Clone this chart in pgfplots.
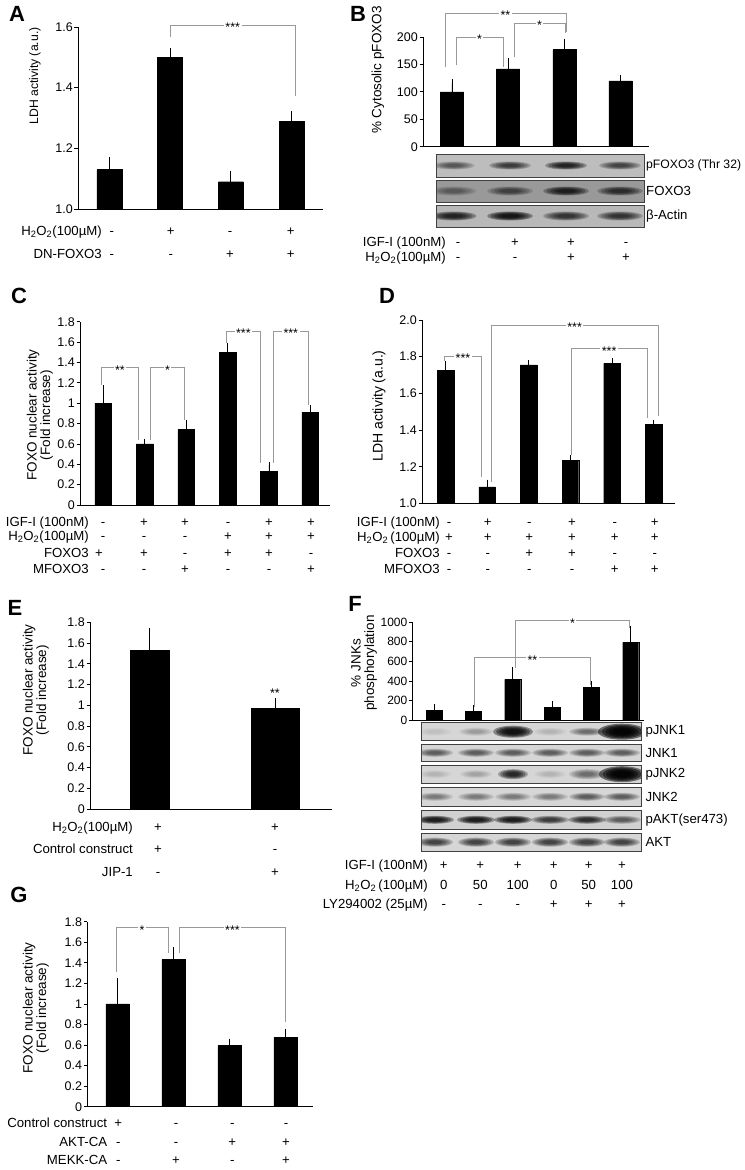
\documentclass[border=0pt]{standalone}
\usepackage{pgfplots}
\pgfplotsset{compat=1.18}
\usepackage{fontspec}
\setmainfont{Liberation Sans}

\newcommand\tf{\fontsize{12.5bp}{14bp}\selectfont}
\newcommand\lf{\fontsize{13.2bp}{15bp}\selectfont}
\newcommand\yl{\fontsize{13.5bp}{13.5bp}\selectfont}
\newcommand\pf{\fontsize{22bp}{24bp}\selectfont\bfseries}
\newcommand\hh{H\textsubscript{2}O\textsubscript{2}}

\pgfplotsset{
  panel/.style={
    ybar, scale only axis, anchor=south west,
    axis x line=bottom, axis y line=left,
    axis line style={-, line width=0.8bp, black},
    xtick=\empty,
    tick align=outside, major tick length=3.5bp,
    ytick style={line width=0.8bp, black},
    yticklabel style={font=\tf, inner sep=1.5bp},
    /pgf/number format/assume math mode=true,
    /pgf/number format/1000 sep={},
    enlargelimits=false,
    error bars/y dir=plus, error bars/y explicit,
    error bars/error bar style={line width=0.8bp, black},
    error bars/error mark options={line width=0.8bp, black, mark size=3.5bp},
  },
  bars/.style={fill=black, draw=black, line width=0.4bp},
  zf/.style={yticklabel style={/pgf/number format/.cd, fixed, fixed zerofill, precision=1}},
}

% label row: right edge x, centre y, label, list of x/sign
\newcommand\row[4]{%
  \node[anchor=base east, font=\lf, inner sep=0pt] at (#1,#2+4.5) {#3};
  \foreach \x/\s in {#4} \node[anchor=base, font=\lf, inner sep=0pt] at (\x,#2+4.5) {\s};
}
% significance bracket: x1,y1 (left leg end), x2,y2 (right leg end), top y, stars
\newcommand\brk[6]{%
  \draw[black!40, line width=0.7bp] (#1,#2)--(#1,#5)--(#3,#5)--(#3,#4);
  \node[fill=white, inner sep=1.5bp, font=\tf, yshift=-2.5bp] at ({(#1+#3)/2},#5) {#6};
}
% blot band: soft ellipse built from nested translucent fills
\newcommand\band[5]{\foreach \k in {1,0.85,0.7,0.55,0.4}{\fill[black, opacity=#5] (#1,#2) ellipse [x radius={#3*\k}, y radius={#4*\k}];}}

\begin{document}
\begin{tikzpicture}
\useasboundingbox (0,0) rectangle (745bp,-1170bp);

% ---------- A
\begin{axis}[panel, zf, at={(78bp,-209bp)}, width=245bp, height=182bp,
  xmin=0.481, xmax=4.519, ymin=1, ymax=1.6, ytick={1,1.2,1.4,1.6}, bar width=0.412]
\addplot[bars] table[x=x, y=y, y error=e] {
x y    e
1 1.13 0.03
2 1.50 0.02
3 1.09 0.025
4 1.29 0.02
};
\end{axis}

% ---------- B
\begin{axis}[panel, at={(423bp,-146.7bp)}, width=225.7bp, height=109.7bp,
  xmin=0.484, xmax=4.502, ymin=0, ymax=200, ytick={0,50,100,150,200}, bar width=0.41]
\addplot[bars] table[x=x, y=y, y error=e] {
x y   e
1 100 17
2 142 14
3 177 13
4 120 5
};
\end{axis}

% ---------- C
\begin{axis}[panel, at={(80bp,-505bp)}, width=250bp, height=183.3bp,
  xmin=0.437, xmax=6.476, ymin=0, ymax=1.8,
  ytick={0,0.2,0.4,0.6,0.8,1,1.2,1.4,1.6,1.8}, bar width=0.403]
\addplot[bars] table[x=x, y=y, y error=e] {
x y    e
1 1.00 0.14
2 0.60 0.01
3 0.74 0.06
4 1.50 0.06
5 0.33 0.06
6 0.91 0.04
};
\end{axis}

% ---------- D
\begin{axis}[panel, zf, at={(422bp,-503.3bp)}, width=252.7bp, height=183.3bp,
  xmin=0.435, xmax=6.505, ymin=1, ymax=2,
  ytick={1,1.2,1.4,1.6,1.8,2}, bar width=0.40]
\addplot[bars] table[x=x, y=y, y error=e] {
x y     e
1 1.725 0.03
2 1.090 0.02
3 1.755 0.008
4 1.236 0.008
5 1.763 0.008
6 1.432 0.006
};
\end{axis}

% ---------- E
\begin{axis}[panel, at={(90bp,-809bp)}, width=241.7bp, height=186.7bp,
  xmin=0.524, xmax=2.452, ymin=0, ymax=1.8,
  ytick={0,0.2,0.4,0.6,0.8,1,1.2,1.4,1.6,1.8}]
\addplot[bars, bar width=0.314, bar shift=0pt] coordinates {(1,1.53) +- (0,0.18)};
\addplot[bars, bar width=0.383, bar shift=0pt] coordinates {(2,0.97) +- (0,0.07)};
\end{axis}

% ---------- F
\begin{axis}[panel, at={(412bp,-720bp)}, width=231.7bp, height=97.7bp,
  xmin=0.44, xmax=6.33, ymin=0, ymax=1000,
  ytick={0,200,400,600,800,1000}, bar width=0.407,
  yticklabel style={font=\fontsize{12bp}{13bp}\selectfont, inner sep=1bp}]
\addplot[bars] table[x=x, y=y, y error=e] {
x y   e
1 100 30
2 90  30
3 416 95
4 133 27
5 331 30
6 795 133
};
\end{axis}

% ---------- G
\begin{axis}[panel, at={(87.3bp,-1106.7bp)}, width=226bp, height=185bp,
  xmin=0.461, xmax=4.5, ymin=0, ymax=1.8,
  ytick={0,0.2,0.4,0.6,0.8,1,1.2,1.4,1.6,1.8}, bar width=0.41]
\addplot[bars] table[x=x, y=y, y error=e] {
x y     e
1 1.000 0.22
2 1.434 0.085
3 0.594 0.035
4 0.675 0.05
};
\end{axis}

\begin{scope}[x=1bp, y=-1bp]
% panel letters
\foreach \p/\x/\y in {A/17/14, B/358/14, C/19/296, D/387/296, E/15/608, F/355/604, G/19/895}
  \node[font=\pf] at (\x,\y) {\p};

% axis titles
\node[rotate=90, font=\fontsize{12.2bp}{14bp}\selectfont] at (35,76) {LDH activity (a.u.)};
\node[rotate=90, font=\yl] at (378,70) {\% Cytosolic pFOXO3};
\node[rotate=90, font=\yl, align=center] at (40,415) {FOXO nuclear activity\\(Fold increase)};
\node[rotate=90, font=\fontsize{14bp}{15bp}\selectfont] at (379,406) {LDH activity (a.u.)};
\node[rotate=90, font=\yl, align=center] at (36,690) {FOXO nuclear activity\\(Fold increase)};
\node[rotate=90, font=\yl, align=center] at (364,663) {\% JNKs\\phosphorylation};
\node[rotate=90, font=\yl, align=center] at (36,1008) {FOXO nuclear activity\\(Fold increase)};

% significance brackets
\brk{170.5}{37}{295}{96}{25}{***}
\brk{445}{67}{566}{32}{13}{**}
\brk{456}{65}{503}{67}{37}{*}
\brk{514}{57}{565}{33}{23}{*}
\brk{101.7}{385}{138.3}{440}{367.7}{**}
\brk{150.7}{440}{184.3}{420}{367.7}{*}
\brk{226.7}{342.7}{260}{462.7}{331}{***}
\brk{273.3}{462.7}{308.3}{405}{331}{***}
\brk{444.7}{360.7}{481.3}{477.3}{356}{***}
\brk{491.3}{481.7}{658}{415.7}{325}{***}
\brk{571}{455}{647.3}{418.3}{348.3}{***}
\brk{474.7}{706.7}{590.3}{685}{657.3}{**}
\brk{515.3}{668.3}{629.7}{628.3}{620.7}{*}
\brk{116}{971.7}{168.3}{953.3}{927.3}{*}
\brk{179.3}{953.3}{285.7}{1021.7}{927.3}{***}
\node[font=\tf] at (275,693) {**};

% treatment rows
\row{102}{231}{\hh(100µM)}{111.7/-,170.7/+,230/-,290.7/+}
\row{102}{254}{DN-FOXO3}{111.7/-,170.7/-,230/+,290.7/+}

\row{446}{242}{IGF-I (100nM)}{458/-,515/+,571/+,626/-}
\row{446}{257}{\hh(100µM)}{458/-,515/-,571/+,626/+}

\row{89}{522}{IGF-I (100nM)}{103/-,144/+,185/+,228/-,269/+,311/+}
\row{89}{536}{\hh(100µM)}{103/-,144/-,185/-,228/+,269/+,311/+}
\row{89}{553}{FOXO3}{99/+,144/+,185/-,228/+,269/+,311/-}
\row{89}{569}{MFOXO3}{103/-,144/-,185/+,228/-,269/-,311/+}

\row{440}{522}{IGF-I (100nM)}{449/-,487.7/+,529.3/-,572/+,614.7/-,654.7/+}
\row{440}{537}{\hh\,(100µM)}{449/+,487.7/+,529.3/+,572/+,614.7/+,654.7/+}
\row{440}{553}{FOXO3}{449/-,487.7/-,529.3/+,572/+,614.7/-,654.7/-}
\row{440}{569}{MFOXO3}{449/-,487.7/-,529.3/-,572/-,614.7/+,654.7/+}

\row{133}{826.7}{\hh(100µM)}{158/+,275/+}
\row{133}{849}{Control construct}{158/+,275/-}
\row{133}{872}{JIP-1}{158/-,275/+}

\row{428}{865}{IGF-I (100nM)}{443.7/+,480.3/+,517.7/+,553.7/+,588.7/+,622/+}
\row{428}{885}{\hh\,(100µM)}{443.7/0,480.3/50,517.7/100,553.7/0,588.7/50,622/100}
\row{428}{904}{LY294002 (25µM)}{443.7/-,480.3/-,517.7/-,553.7/+,588.7/+,622/+}

\row{107.3}{1123}{Control construct}{118.3/+,176/-,232.3/-,286/-}
\row{107.3}{1142}{AKT-CA}{118.3/-,176/-,232.3/+,286/+}
\row{107.3}{1160}{MEKK-CA}{118.3/-,176/+,232.3/-,286/+}

% western blots, B
\begin{scope}
\clip (436,154) rectangle (644,177);
\fill[black!26] (436,154) rectangle (644,177);
\foreach \x/\a in {453.7/0.14,510/0.2,566/0.28,620/0.18} \band{\x}{165.5}{21}{4}{\a};
\end{scope}
\begin{scope}
\clip (436,180) rectangle (644,202);
\fill[black!40] (436,180) rectangle (644,202);
\foreach \x/\a in {453.7/0.1,510/0.16,566/0.28,620/0.22} \band{\x}{191}{23}{4.5}{\a};
\end{scope}
\begin{scope}
\clip (436,205) rectangle (644,227);
\fill[black!28] (436,205) rectangle (644,227);
\foreach \x/\a in {453.7/0.28,510/0.34,566/0.22,620/0.22} \band{\x}{216}{23}{4.5}{\a};
\end{scope}
\foreach \ya/\yb in {154/177,180/202,205/227}
  \draw[black!75, line width=0.8bp] (436,\ya) rectangle (644,\yb);
\node[anchor=west, font=\fontsize{12.2bp}{14bp}\selectfont, inner sep=1.5bp] at (644.5,165.5) {pFOXO3 (Thr 32)};
\node[anchor=west, font=\lf, inner sep=1.5bp] at (644.5,191) {FOXO3};
\node[anchor=west, font=\lf, inner sep=1.5bp] at (644.5,216) {β-Actin};

% western blots, F
\begin{scope}
\clip (421,722.7) rectangle (641.3,740.7);
\fill[black!16] (421,722.7) rectangle (641.3,740.7);
\foreach \x/\a/\r/\h in {435/0.02/17/4,476/0.06/17/4,513/0.38/20/6,550/0.03/17/4,587/0.12/18/4,622/0.5/24/8}
  \band{\x}{731.7}{\r}{\h}{\a};
\end{scope}
\begin{scope}
\clip (421,744) rectangle (641.3,761.7);
\fill[black!16] (421,744) rectangle (641.3,761.7);
\foreach \x in {435,476,513,550,587,622} \band{\x}{752.8}{18}{4}{0.15};
\end{scope}
\begin{scope}
\clip (421,765) rectangle (641.3,783.3);
\fill[black!16] (421,765) rectangle (641.3,783.3);
\foreach \x/\a/\r/\h in {435/0.03/16/4,476/0.05/16/4,513/0.28/15/5,550/0.03/16/4,587/0.12/18/5,622/0.5/23/8}
  \band{\x}{774.2}{\r}{\h}{\a};
\end{scope}
\begin{scope}
\clip (421,787.7) rectangle (641.3,806);
\fill[black!16] (421,787.7) rectangle (641.3,806);
\foreach \x/\a in {435/0.1,476/0.1,513/0.1,550/0.1,587/0.15,622/0.15} \band{\x}{796.8}{18}{4}{\a};
\end{scope}
\begin{scope}
\clip (421,810.7) rectangle (641.3,829);
\fill[black!18] (421,810.7) rectangle (641.3,829);
\foreach \x/\a in {435/0.32,476/0.32,513/0.32,550/0.22,587/0.25,622/0.15} \band{\x}{819.8}{19}{4}{\a};
\end{scope}
\begin{scope}
\clip (421,833.3) rectangle (641.3,851);
\fill[black!16] (421,833.3) rectangle (641.3,851);
\foreach \x in {435,476,513,550,587,622} \band{\x}{842.2}{18}{4.5}{0.2};
\end{scope}
\foreach \ya/\yb in {722.7/740.7,744/761.7,765/783.3,787.7/806,810.7/829,833.3/851}
  \draw[black!75, line width=0.8bp] (421,\ya) rectangle (641.3,\yb);
\foreach \n/\y in {pJNK1/731.7, JNK1/752.8, pJNK2/774.2, JNK2/796.8, pAKT(ser473)/819.8, AKT/842.2}
  \node[anchor=west, font=\lf] at (642,\y) {\n};
\end{scope}
\end{tikzpicture}
\end{document}
